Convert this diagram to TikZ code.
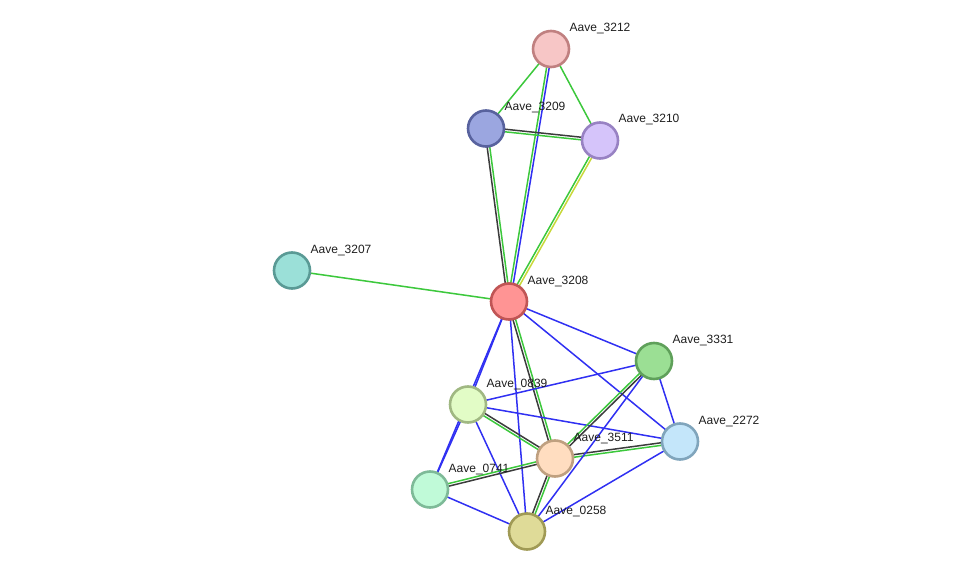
\documentclass[tikz,border=0pt]{standalone}
\usepackage{fontspec}
\setmainfont{Liberation Sans}
\usetikzlibrary{calc,backgrounds}
\definecolor{lnblue}{HTML}{3030F2}
\definecolor{lngreen}{HTML}{3CC83C}
\definecolor{lnblack}{HTML}{3C3C3C}
\definecolor{lnyellow}{HTML}{C8D83A}
\definecolor{labeltext}{HTML}{1E1E1E}

% one evidence channel, or two side by side
\newcommand{\oneedge}[3]{\draw[#3] (#1.center) -- (#2.center);}
\newcommand{\twoedge}[4]{%
  \draw[#3] ($(#1.center)!1.3pt!90:(#2.center)$) -- ($(#2.center)!1.3pt!-90:(#1.center)$);
  \draw[#4] ($(#1.center)!1.3pt!-90:(#2.center)$) -- ($(#2.center)!1.3pt!90:(#1.center)$);}

\begin{document}
\begin{tikzpicture}[x=1pt, y=-1pt,
  prot/.style={circle, minimum size=36pt, inner sep=0pt, line width=2.6pt},
  tag/.style={font=\fontsize{12}{14}\selectfont, text=labeltext, inner sep=0pt, anchor=base west},
  ev/.style={line width=1.5pt},
]
  \useasboundingbox (0,0) rectangle (976,577);

  \node[prot, fill={rgb,255:red,247;green,198;blue,198}, draw={rgb,255:red,192;green,128;blue,128}] (n3212) at (551,49) {};
  \node[prot, fill={rgb,255:red,155;green,166;blue,224}, draw={rgb,255:red,88;green,98;blue,158}] (n3209) at (486,128.5) {};
  \node[prot, fill={rgb,255:red,213;green,196;blue,250}, draw={rgb,255:red,152;green,130;blue,195}] (n3210) at (600,140.5) {};
  \node[prot, fill={rgb,255:red,155;green,224;blue,216}, draw={rgb,255:red,90;green,154;blue,149}] (n3207) at (292,270.5) {};
  \node[prot, fill={rgb,255:red,255;green,148;blue,148}, draw={rgb,255:red,192;green,85;blue,85}] (n3208) at (509,301.5) {};
  \node[prot, fill={rgb,255:red,155;green,223;blue,148}, draw={rgb,255:red,95;green,160;blue,90}] (n3331) at (654,361) {};
  \node[prot, fill={rgb,255:red,226;green,252;blue,198}, draw={rgb,255:red,160;green,184;blue,130}] (n0839) at (468,404.5) {};
  \node[prot, fill={rgb,255:red,196;green,230;blue,250}, draw={rgb,255:red,128;green,165;blue,188}] (n2272) at (680,441.5) {};
  \node[prot, fill={rgb,255:red,255;green,221;blue,192}, draw={rgb,255:red,191;green,160;blue,128}] (n3511) at (555,458.5) {};
  \node[prot, fill={rgb,255:red,192;green,250;blue,216}, draw={rgb,255:red,126;green,186;blue,152}] (n0741) at (430,489.5) {};
  \node[prot, fill={rgb,255:red,223;green,219;blue,152}, draw={rgb,255:red,160;green,154;blue,85}] (n0258) at (527,531.5) {};

  \node[tag] (t3212) at ($(n3212)+(18.5,-17.5)$) {Aave\_3212};
  \node[tag] (t3209) at ($(n3209)+(18.5,-17.5)$) {Aave\_3209};
  \node[tag] (t3210) at ($(n3210)+(18.5,-17.5)$) {Aave\_3210};
  \node[tag] (t3207) at ($(n3207)+(18.5,-17.5)$) {Aave\_3207};
  \node[tag] (t3208) at ($(n3208)+(18.5,-17.5)$) {Aave\_3208};
  \node[tag] (t3331) at ($(n3331)+(18.5,-17.5)$) {Aave\_3331};
  \node[tag] (t0839) at ($(n0839)+(18.5,-17.5)$) {Aave\_0839};
  \node[tag] (t2272) at ($(n2272)+(18.5,-17.5)$) {Aave\_2272};
  \node[tag] (t3511) at ($(n3511)+(18.5,-17.5)$) {Aave\_3511};
  \node[tag] (t0741) at ($(n0741)+(18.5,-17.5)$) {Aave\_0741};
  \node[tag] (t0258) at ($(n0258)+(18.5,-17.5)$) {Aave\_0258};

  \begin{pgfonlayer}{background}
    % upper cluster
    \oneedge{n3212}{n3209}{ev, lngreen}
    \oneedge{n3212}{n3210}{ev, lngreen}
    \twoedge{n3212}{n3208}{ev, lnblue}{ev, lngreen}
    \twoedge{n3209}{n3210}{ev, lnblack}{ev, lngreen}
    \twoedge{n3209}{n3208}{ev, lngreen}{ev, lnblack}
    \twoedge{n3210}{n3208}{ev, lnyellow}{ev, lngreen}
    \oneedge{n3207}{n3208}{ev, lngreen}
    % lower cluster
    \oneedge{n3208}{n3331}{ev, lnblue}
    \oneedge{n3208}{n2272}{ev, lnblue}
    \oneedge{n3208}{n0839}{ev, lnblue}
    \oneedge{n3208}{n0741}{ev, lnblue}
    \oneedge{n3208}{n0258}{ev, lnblue}
    \twoedge{n3208}{n3511}{ev, lngreen}{ev, lnblack}
    \oneedge{n0839}{n0741}{ev, lnblue}
    \oneedge{n0839}{n3331}{ev, lnblue}
    \oneedge{n0839}{n2272}{ev, lnblue}
    \oneedge{n0839}{n0258}{ev, lnblue}
    \twoedge{n0839}{n3511}{ev, lnblack}{ev, lngreen}
    \twoedge{n0741}{n3511}{ev, lngreen}{ev, lnblack}
    \oneedge{n0741}{n0258}{ev, lnblue}
    \twoedge{n3511}{n3331}{ev, lngreen}{ev, lnblack}
    \twoedge{n3511}{n2272}{ev, lnblack}{ev, lngreen}
    \twoedge{n3511}{n0258}{ev, lngreen}{ev, lnblack}
    \oneedge{n3331}{n2272}{ev, lnblue}
    \oneedge{n3331}{n0258}{ev, lnblue}
    \oneedge{n2272}{n0258}{ev, lnblue}
  \end{pgfonlayer}
\end{tikzpicture}
\end{document}
